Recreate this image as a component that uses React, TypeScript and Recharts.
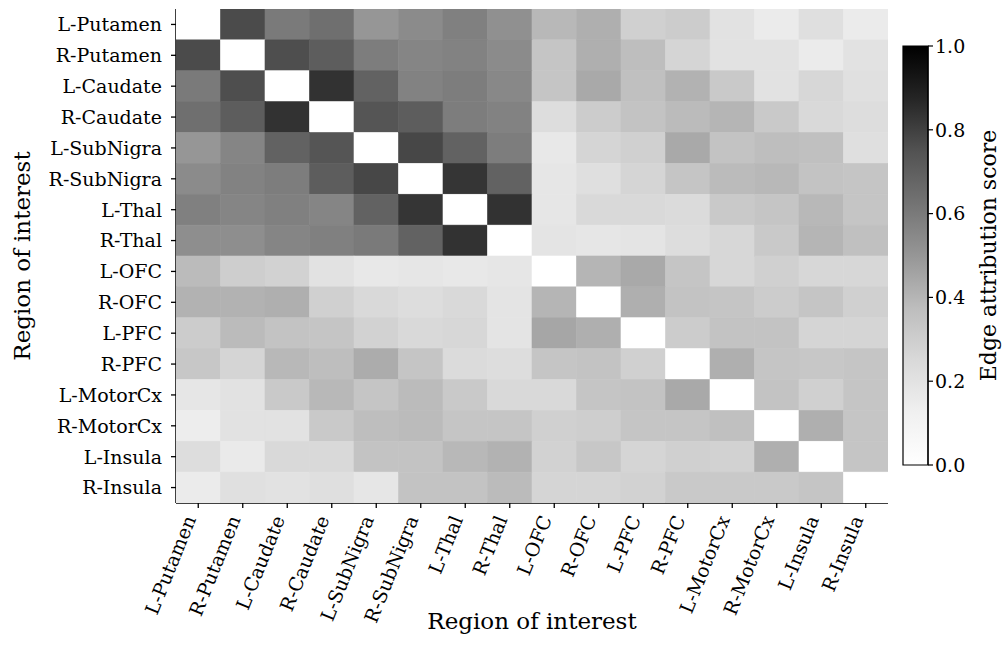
import React from 'react';
import { ScatterChart, Scatter, XAxis, YAxis, ReferenceLine, BarChart, Bar } from 'recharts';

const regions = ['L-Putamen','R-Putamen','L-Caudate','R-Caudate','L-SubNigra','R-SubNigra','L-Thal','R-Thal','L-OFC','R-OFC','L-PFC','R-PFC','L-MotorCx','R-MotorCx','L-Insula','R-Insula'];

const rowLPutamen  = [0.00,0.77,0.60,0.64,0.50,0.54,0.58,0.52,0.39,0.42,0.29,0.31,0.20,0.15,0.22,0.15];
const rowRPutamen  = [0.77,0.00,0.76,0.71,0.59,0.56,0.57,0.54,0.34,0.42,0.37,0.27,0.20,0.20,0.15,0.20];
const rowLCaudate  = [0.60,0.76,0.00,0.84,0.69,0.57,0.59,0.55,0.34,0.44,0.36,0.41,0.32,0.20,0.26,0.21];
const rowRCaudate  = [0.64,0.71,0.84,0.00,0.74,0.71,0.59,0.57,0.23,0.31,0.35,0.38,0.40,0.32,0.25,0.23];
const rowLSubNigra = [0.50,0.56,0.69,0.74,0.00,0.78,0.69,0.59,0.17,0.27,0.29,0.44,0.35,0.37,0.36,0.22];
const rowRSubNigra = [0.54,0.57,0.59,0.71,0.78,0.00,0.83,0.69,0.18,0.22,0.27,0.34,0.38,0.39,0.35,0.34];
const rowLThal     = [0.58,0.56,0.58,0.56,0.69,0.83,0.00,0.84,0.18,0.25,0.25,0.24,0.32,0.34,0.39,0.34];
const rowRThal     = [0.53,0.53,0.56,0.58,0.60,0.69,0.84,0.00,0.19,0.18,0.19,0.23,0.26,0.32,0.40,0.36];
const rowLOFC      = [0.38,0.30,0.28,0.20,0.17,0.18,0.17,0.18,0.00,0.40,0.44,0.34,0.26,0.29,0.26,0.26];
const rowROFC      = [0.41,0.41,0.42,0.29,0.25,0.23,0.25,0.19,0.40,0.00,0.42,0.35,0.34,0.31,0.34,0.29];
const rowLPFC      = [0.31,0.38,0.35,0.34,0.28,0.25,0.26,0.19,0.45,0.42,0.00,0.31,0.35,0.35,0.27,0.27];
const rowRPFC      = [0.33,0.27,0.39,0.37,0.43,0.34,0.24,0.23,0.34,0.35,0.29,0.00,0.42,0.34,0.33,0.34];
const rowLMotorCx  = [0.18,0.20,0.32,0.39,0.34,0.38,0.32,0.25,0.25,0.34,0.35,0.44,0.00,0.35,0.29,0.34];
const rowRMotorCx  = [0.14,0.20,0.20,0.32,0.37,0.38,0.34,0.34,0.29,0.30,0.34,0.34,0.36,0.00,0.42,0.34];
const rowLInsula   = [0.23,0.16,0.25,0.25,0.35,0.35,0.39,0.41,0.28,0.33,0.27,0.29,0.28,0.42,0.00,0.34];
const rowRInsula   = [0.15,0.21,0.20,0.22,0.18,0.35,0.35,0.38,0.27,0.27,0.28,0.32,0.32,0.32,0.34,0.00];

const matrix = [rowLPutamen,rowRPutamen,rowLCaudate,rowRCaudate,rowLSubNigra,rowRSubNigra,rowLThal,rowRThal,rowLOFC,rowROFC,rowLPFC,rowRPFC,rowLMotorCx,rowRMotorCx,rowLInsula,rowRInsula];

const colorbarTicks = [0, 0.2, 0.4, 0.6, 0.8, 1.0];
const cellTicks = regions.map((_, i) => i + 0.5);

// matplotlib "Greys" colormap
const greysStops = [255, 240, 217, 189, 150, 115, 82, 37, 0];
function greys(v: number): string {
  const t = Math.max(0, Math.min(1, v)) * (greysStops.length - 1);
  const i = Math.min(Math.floor(t), greysStops.length - 2);
  const f = t - i;
  const g = Math.round(greysStops[i] + (greysStops[i + 1] - greysStops[i]) * f);
  return `rgb(${g},${g},${g})`;
}

const cells = matrix.flatMap((row, r) => row.map((v, c) => ({ x: c + 0.5, y: r + 0.5, v })));

const W = 1005, H = 661;
const PL = 176, PT = 9, PR = 888, PB = 503;
const CW = (PR - PL) / 16, CH = (PB - PT) / 16;
const FONT = '"DejaVu Serif", serif';

const CellShape = (props: any) => {
  const { cx, cy, payload } = props;
  const c = greys(payload.v);
  return <rect x={cx - CW / 2} y={cy - CH / 2} width={CW} height={CH} fill={c} stroke={c} strokeWidth={0.6} />;
};

const XTick = (props: any) => {
  const { x, y, payload } = props;
  const idx = Math.round(payload.value - 0.5);
  return (
    <g transform={`translate(${x - 2},${y + 9})`}>
      <text transform="rotate(-68)" textAnchor="end" fontSize={19} fontFamily={FONT} fill="#000">{regions[idx]}</text>
    </g>
  );
};

const YTick = (props: any) => {
  const { x, y, payload } = props;
  const idx = Math.round(payload.value - 0.5);
  return (
    <text x={x - 7} y={y} dy="0.36em" textAnchor="end" fontSize={19} fontFamily={FONT} fill="#000">{regions[idx]}</text>
  );
};

const XTitle = (props: any) => {
  const vb = props.viewBox || {};
  return <text x={(PL + PR) / 2} y={vb.y + 126} textAnchor="middle" fontSize={23} fontFamily={FONT} fill="#000">Region of interest</text>;
};

const YTitle = () => (
  <text transform={`translate(30,${(PT + PB) / 2}) rotate(-90)`} textAnchor="middle" fontSize={23} fontFamily={FONT} fill="#000">Region of interest</text>
);

const CBTick = (props: any) => {
  const { x, y, payload } = props;
  return <text x={x} y={y} dy="0.36em" textAnchor="start" fontSize={19} fontFamily={FONT} fill="#000">{Number(payload.value).toFixed(1)}</text>;
};

const CBTitle = (props: any) => {
  const vb = props.viewBox || {};
  return (
    <text transform={`translate(${116},${vb.y + vb.height / 2}) rotate(-90)`} textAnchor="middle" fontSize={22} fontFamily={FONT} fill="#000">Edge attribution score</text>
  );
};

const cbData = [{ name: 'cb', v: 1 }];

export default function App() {
  return (
    <div style={{ position: 'relative', width: W, height: H, background: '#fff' }}>
      <style>{`body{margin:0;background:#fff}`}</style>
      <svg width={0} height={0} style={{ position: 'absolute' }}>
        <defs>
          <linearGradient id="greysGrad" x1="0" y1="1" x2="0" y2="0">
            {greysStops.map((g, i) => (
              <stop key={i} offset={`${(i / (greysStops.length - 1)) * 100}%`} stopColor={`rgb(${g},${g},${g})`} />
            ))}
          </linearGradient>
        </defs>
      </svg>
      <div style={{ position: 'absolute', left: 0, top: 0 }}>
        <ScatterChart width={W} height={H} margin={{ top: PT, right: W - PR, bottom: H - PB - 140, left: 0 }}>
          <XAxis type="number" dataKey="x" domain={[0, 16]} ticks={cellTicks} interval={0} height={140}
            tick={<XTick />} tickSize={5} tickLine={{ stroke: '#000', strokeWidth: 1.3 }}
            axisLine={{ stroke: '#000', strokeWidth: 1.5 }} allowDataOverflow label={<XTitle />} />
          <YAxis type="number" dataKey="y" domain={[0, 16]} reversed ticks={cellTicks} interval={0} width={PL}
            tick={<YTick />} tickSize={5} tickLine={{ stroke: '#000', strokeWidth: 1.3 }}
            axisLine={{ stroke: '#000', strokeWidth: 1.5 }} allowDataOverflow label={<YTitle />} />
          <Scatter data={cells} shape={<CellShape />} isAnimationActive={false} />
          <ReferenceLine x={8} stroke="#000" strokeWidth={1} strokeDasharray="4 2" />
          <ReferenceLine y={8} stroke="#000" strokeWidth={1} strokeDasharray="4 2" />
        </ScatterChart>
      </div>
      <div style={{ position: 'absolute', left: 880, top: 0 }}>
        <BarChart width={125} height={H} data={cbData} margin={{ top: 46, bottom: H - 465, left: 23, right: 0 }} barCategoryGap={0}>
          <XAxis dataKey="name" hide />
          <YAxis orientation="right" type="number" domain={[0, 1]} ticks={colorbarTicks} interval={0} width={77}
            tick={<CBTick />} tickSize={5} tickLine={{ stroke: '#000', strokeWidth: 1.2 }}
            axisLine={{ stroke: '#000', strokeWidth: 1.2 }} label={<CBTitle />} />
          <Bar dataKey="v" fill="url(#greysGrad)" stroke="#000" strokeWidth={1.2} isAnimationActive={false} />
        </BarChart>
      </div>
    </div>
  );
}
